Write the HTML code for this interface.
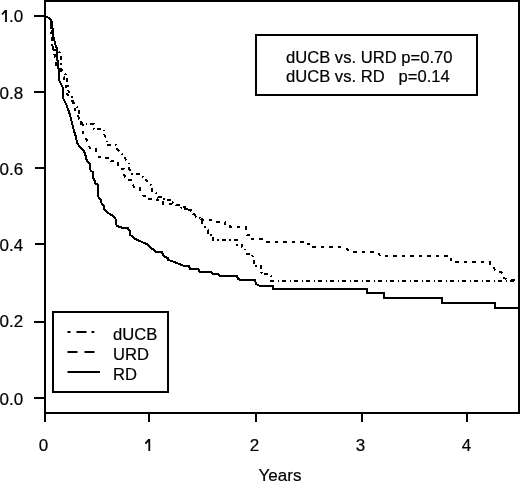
<!DOCTYPE html><html><head><meta charset="utf-8"><style>html,body{margin:0;padding:0;background:#fff;width:520px;height:481px;overflow:hidden}svg{display:block;filter:grayscale(1)}text{font-family:"Liberation Sans", sans-serif;fill:#000;stroke:#000;stroke-width:0.2px}</style></head><body>
<svg width="520" height="481" viewBox="0 0 520 481">
<rect width="520" height="481" fill="#fff"/>
<g fill="none" stroke="#000" stroke-width="2">
<path d="M45 0 V413 M44 1 H520 M519 0 V413 M44 413 H520"/>
<path d="M34 398.0 H45"/>
<path d="M34 322.0 H45"/>
<path d="M35 244.0 H45"/>
<path d="M35 168.0 H45"/>
<path d="M34 92.0 H45"/>
<path d="M34 16.0 H45"/>
<path d="M45.0 413 V422"/>
<path d="M149.0 413 V422"/>
<path d="M256.0 413 V422"/>
<path d="M362.0 413 V422"/>
<path d="M467.0 413 V422"/>
</g>
<text x="23.2" y="404.5" font-size="17" text-anchor="end">0.0</text>
<text x="23.2" y="327.0" font-size="17" text-anchor="end">0.2</text>
<text x="23.2" y="251.0" font-size="17" text-anchor="end">0.4</text>
<text x="23.2" y="175.0" font-size="17" text-anchor="end">0.6</text>
<text x="23.2" y="99.0" font-size="17" text-anchor="end">0.8</text>
<text x="23.2" y="21.5" font-size="17" text-anchor="end">.0</text>
<path d="M6 10 V22 M2 14.5 L5.6 10.6" fill="none" stroke="#000" stroke-width="1.8"/>
<text x="43.5" y="450.5" font-size="17" text-anchor="middle">0</text>
<path d="M149.3 439 V451 M145.4 443.6 L149 439.6" fill="none" stroke="#000" stroke-width="1.8"/>
<text x="254.4" y="450.5" font-size="17" text-anchor="middle">2</text>
<text x="360.4" y="450.5" font-size="17" text-anchor="middle">3</text>
<text x="466.5" y="450.5" font-size="17" text-anchor="middle">4</text>
<text x="280" y="481" font-size="17" text-anchor="middle">Years</text>
<g fill="none" stroke="#000" stroke-width="2" stroke-linejoin="miter" shape-rendering="crispEdges">
<path d="M45.0 16.0 L47.0 17.0 L49.0 18.0 L51.0 20.0 L52.0 22.0 V25.0 L53.0 31.0 V36.0 L54.0 38.0 L55.0 44.0 L56.0 46.0 L57.0 49.0 V58.0 L58.0 63.0 V68.0 L59.0 69.0 V80.0 L60.0 82.0 L62.0 86.0 L63.0 88.0 V98.0 L66.0 104.0 L68.0 109.0 L70.0 115.0 L72.0 123.0 L74.0 131.0 L76.0 137.0 L77.0 143.0 L80.0 147.0 L83.0 150.0 L85.0 153.0 L86.0 158.0 L87.0 161.0 L88.0 162.0 L90.0 164.0 V169.0 L91.0 171.0 L93.0 172.0 V178.0 L95.0 181.0 V183.0 L98.0 185.0 V187.0 V196.0 L99.0 198.0 L101.0 200.0 V202.0 L102.0 204.0 L104.0 206.0 V209.0 L106.0 211.0 L108.0 213.0 L110.0 214.0 L113.0 216.0 L115.0 218.0 L116.0 220.0 V224.0 L117.0 226.0 L120.0 227.0 L123.0 228.0 H128.0 V229.0 L130.0 231.0 V235.0 L132.0 236.0 L134.0 238.0 L137.0 240.0 L140.0 241.0 L142.0 242.0 L144.0 243.0 L147.0 244.0 L149.0 246.0 L151.0 248.0 L154.0 250.0 L156.0 252.0 H162.0 L163.0 255.0 L165.0 257.0 L168.0 258.0 V260.0 L172.0 261.0 L174.0 262.0 L177.0 263.0 L179.0 264.0 L182.0 265.0 L184.0 266.0 H189.0 L190.0 269.0 H198.0 L200.0 272.0 H211.0 L213.0 274.0 H218.0 L220.0 276.0 H237.0 L238.0 279.0 L241.0 280.0 H255.0 L256.0 284.0 L260.0 286.0 H273.0 V289.0 H367.0 V293.0 H384.0 V298.0 H442.0 V303.0 H495.0 V308.0 H519.0"/>
<path d="M45.0 16.0 L47.0 17.0 L49.0 18.0 L51.0 20.0 V25.0 V30.0 L52.0 37.0 V47.0 L54.0 50.0 L58.0 51.0 L60.0 53.0 V55.0 L61.0 57.0 V68.0 L62.0 71.0 L65.0 73.0 L66.0 76.0 L67.0 80.0 L68.0 85.0 V90.0 L70.0 94.0 L72.0 97.0 V100.0 L75.0 104.0 L77.0 107.0 L79.0 110.0 V119.0 L81.0 120.0 V124.0 H94.0 V129.0 H99.0 H104.0 V134.0 L107.0 140.0 V145.0 H116.0 V148.0 L120.0 152.0 L124.0 156.0 L126.0 160.0 L129.0 162.0 V168.0 L131.0 174.0 H141.0 L144.0 178.0 L146.0 180.0 L149.0 184.0 L152.0 186.0 V191.0 H155.0 L158.0 197.0 H164.0 V200.0 H172.0 V202.0 L176.0 205.0 H181.0 V207.0 L182.0 209.0 H189.0 V210.0 H191.0 L192.0 213.0 L195.0 215.0 L196.0 217.0 L200.0 218.0 L202.0 220.0 V225.0 L206.0 228.0 L208.0 230.0 V235.0 H213.0 V236.0 V240.0 H237.0 V245.0 H242.0 V247.0 L245.0 248.0 V251.0 L247.0 254.0 H252.0 L254.0 262.0 V266.0 H261.0 V267.0 V271.0 L262.0 274.0 H270.0 L271.0 277.0 V281.0 H518.0" stroke-dasharray="4 3.5 1.5 3"/>
<path d="M45.0 16.0 L47.0 17.0 L49.0 18.0 L51.0 20.0 V25.0 L52.0 30.0 V37.0 H53.0 V47.0 L54.0 52.0 L55.0 57.0 L56.0 60.0 V66.0 L58.0 68.0 L60.0 70.0 L63.0 74.0 L64.0 78.0 L65.0 82.0 L66.0 86.0 L67.0 90.0 V94.0 L70.0 98.0 L72.0 101.0 L75.0 106.0 V112.0 L78.0 116.0 L80.0 120.0 L83.0 125.0 V133.0 L86.0 136.0 L87.0 143.0 L90.0 148.0 H96.0 V152.0 L99.0 157.0 H106.0 V158.0 H111.0 V161.0 H118.0 V164.0 L119.0 169.0 H124.0 V174.0 L126.0 180.0 H132.0 V184.0 L135.0 188.0 H140.0 V191.0 L144.0 196.0 H149.0 V199.0 H157.0 V200.0 H163.0 V204.0 H176.0 V205.0 H181.0 V207.0 H189.0 V210.0 H191.0 L192.0 213.0 L195.0 215.0 L196.0 217.0 L200.0 218.0 L203.0 220.0 H211.0 L212.0 222.0 H219.0 H225.0 V224.0 H230.0 V227.0 H246.0 V232.0 L247.0 235.0 H252.0 V239.0 H263.0 L265.0 242.0 H308.0 V244.0 H313.0 V247.0 H344.0 L346.0 248.0 L348.0 250.0 L350.0 251.0 L352.0 252.0 H378.0 L380.0 256.0 H451.0 V260.0 H456.0 V262.0 H490.0 V266.0 L494.0 268.0 L496.0 272.0 H501.0 L504.0 274.0 V278.0 L508.0 280.0 H518.0" stroke-dasharray="3.5 5"/>
</g>
<rect x="256" y="35" width="221" height="60" fill="none" stroke="#000" stroke-width="2"/>
<text x="286" y="63" font-size="16.6" xml:space="preserve" style="white-space:pre">dUCB vs. URD p=0.70</text>
<text x="286" y="82" font-size="16.6" xml:space="preserve" style="white-space:pre">dUCB vs. RD   p=0.14</text>
<rect x="53" y="312" width="115" height="80" fill="#fff" stroke="#000" stroke-width="2"/>
<g fill="none" stroke="#000" stroke-width="2">
<path d="M67.5 332 H94.3" stroke-dasharray="3 6 10 5 3 100"/>
<path d="M67.5 352 H94.5" stroke-dasharray="10 7 10 100"/>
<path d="M67.5 372 H100"/>
</g>
<text x="113" y="340" font-size="16.6">dUCB</text>
<text x="113" y="360" font-size="16.6">URD</text>
<text x="113" y="380" font-size="16.6">RD</text>
</svg></body></html>
